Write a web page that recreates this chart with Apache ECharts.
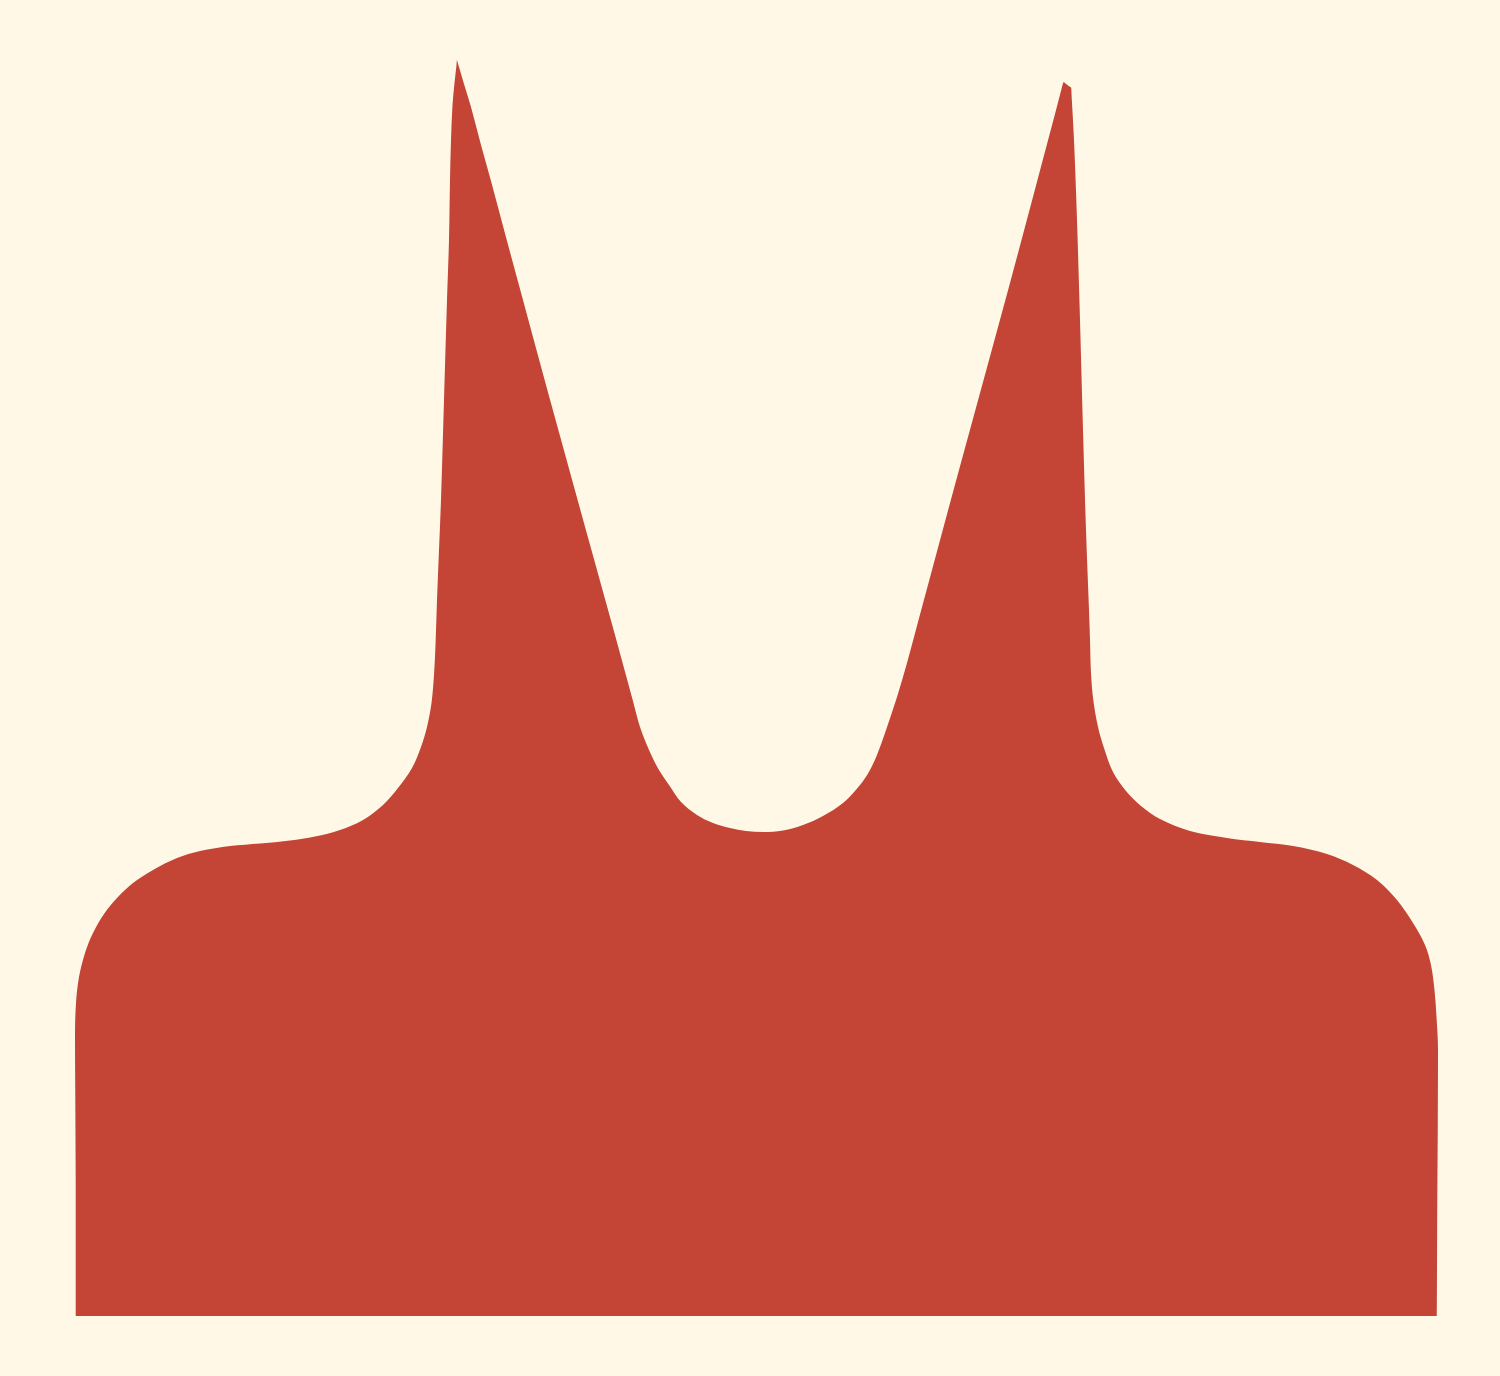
<!DOCTYPE html>
<html>
<head>
<meta charset="utf-8">
<style>html,body{margin:0;padding:0;background:#FFF8E7}#c{width:1500px;height:1376px}</style>
<script src="https://cdn.jsdelivr.net/npm/echarts@6/dist/echarts.min.js"></script>
</head>
<body>
<div id="c"></div>
<script>
// Outline: horizontal position and depth from the top of the scale.
const positions = [
76,75.7,75.3,75,76,79,85,93,104,117,133,153,177,200,230,260,290,315,340,363,383,398,412,421,427,431.5,434,435.5,437,439,441,444,447,449,450,451,452.5,454.5,456.5,457,457.5,459,
464,471,481,491,507,523,549,597,615,632.7,640,649,659,669,681,697,713,730,746,763,783,803,823,843,860,870,877,885,897,907,918,959,1010,1055,1062.5,1063.2,1063.7,1064.6,1070.2,1071.2,1071.5,
1074,1077,1080,1083,1086,1089,1090,1091,1093.3,1098,1104,1113,1126,1141,1160,1190,1227,1260,1293,1327,1353,1377,1397,1413,1425,1431,1434.5,1436.5,1438,1437.8,1437.2,1437
];
const depths = [
1316,1180,1100,1037,1003,977,953,933,914,898,883,870,858,851,846,843.5,840.5,836.5,830,820,805,788,768,747,727,703,675,645,600,550,500,400,300,240,180,140,105,83,65,60,62,67,
84,107,145,181,241,300,396,570,635,700,727,750,770,785,802,815,823,828,831,832,830.5,825,816,803,785,770,755,733,697,663,622,470,283,114,85,83,82,82.7,87,87.8,94,
140,220,320,430,530,610,640,673,700,727,748,772,791,806,819,831,838,842,846,854,865,880,900,923,945,965,990,1017,1050,1120,1220,1316
];
const seriesData = positions.map((p, i) => [p, depths[i]]);

const chart = echarts.init(document.getElementById('c'), null, {renderer: 'canvas'});
chart.setOption({
  animation: false,
  backgroundColor: '#FFF8E7',
  grid: {left: 0, top: 0, width: 1500, height: 1316},
  xAxis: {type: 'value', min: 0, max: 1500, show: false},
  yAxis: {type: 'value', min: 0, max: 1316, inverse: true, show: false},
  series: [{
    type: 'line',
    data: seriesData,
    showSymbol: false,
    smooth: 0.33,
    lineStyle: {width: 0},
    areaStyle: {color: '#C44536', opacity: 1, origin: 'end'},
    itemStyle: {color: '#C44536'}
  }]
});
</script>
</body>
</html>
